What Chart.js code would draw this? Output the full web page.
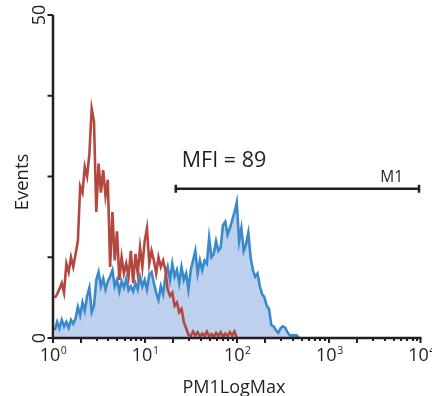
<!DOCTYPE html>
<html>
<head>
<meta charset="utf-8">
<script src="https://cdn.jsdelivr.net/npm/chart.js@4.4.1/dist/chart.umd.min.js"></script>
<style>
    html, body { margin: 0; padding: 0; background: #fff; }
    #wrap { width: 432px; height: 396px; }
</style>
</head>
<body>
<div id="wrap"><canvas id="histo" width="432" height="396"></canvas></div>
<script>
// Histogram bins (log10 of channel), one count per bin
const binStartLog = 0.02;
const binStepLog = 0.025;

// Stained sample (blue, filled)
const blueCounts = [
    1.2, 2.5, 1.5, 2.8, 1.8, 2.5, 1.6, 2.8, 2.2, 3.0,
    4.8, 3.5, 5.5, 4.2, 6.5, 7.8, 4.0, 5.0, 9.0, 10.2,
    8.0, 9.2, 7.5, 8.8, 9.5, 10.5, 8.0, 9.0, 7.2, 8.8,
    7.8, 9.2, 7.4, 8.0, 7.2, 8.5, 7.5, 9.5, 8.0, 9.0,
    7.5, 9.8, 10.2, 8.5, 7.0, 5.9, 8.0, 6.8, 9.5, 11.0,
    9.0, 11.5, 9.5, 10.5, 8.5, 11.0, 9.0, 10.0, 7.5, 10.5,
    12.0, 13.5, 10.0, 12.0, 10.5, 12.0, 11.5, 15.5, 12.5, 13.0,
    15.0, 13.5, 14.0, 17.5, 18.0, 16.0, 17.0, 18.2, 19.5, 21.0,
    15.0, 17.0, 13.5, 14.5, 16.3, 12.5, 10.5, 9.5, 10.0, 8.0,
    6.8, 6.3, 5.0, 4.5, 2.0, 1.8, 1.2, 0.8, 1.5, 1.8,
    1.6, 0.9, 0.4, 0.4, 0.4, 0.4, 0
];

// Control sample (red line)
const redCounts = [
    6.2, 6.8, 7.6, 8.5, 7.0, 11.5, 10.2, 12.5, 11.0, 13.0,
    15.0, 23.5, 22.5, 26.5, 25.0, 28.5, 35.5, 33.5, 19.5, 27.0,
    22.5, 26.0, 22.0, 24.5, 11.0, 19.5, 12.0, 16.5, 9.0, 12.5,
    10.0, 11.5, 9.5, 13.5, 8.5, 13.0, 10.0, 14.0, 11.0, 15.0,
    17.0, 11.5, 13.5, 12.0, 10.0, 12.5, 11.0, 12.0, 10.5, 7.5,
    6.5, 7.0, 5.0, 5.5, 4.0, 4.5, 2.5, 1.5, 0.5, 0.3,
    1.0, 0.4, 0.9, 0.2, 0.7, 0.3, 1.0, 0.3, 0.6, 0.2,
    0.8, 0.3, 0.9, 0.2, 0.7, 0.3, 0.9, 0.4, 1.0, 0
];

// Axis ticks
const xDecadeExponents = ['0', '1', '2', '3', '4'];
const yTickValues = [0, 12.5, 25, 37.5, 50];
const yTickLabels = ['0', '', '', '', '50'];

// Gate marker
const markerName = 'M1';
const markerStart = 21.5;
const markerEnd = 9400;
const markerLevel = 23.1;
const mfiText = 'MFI = 89';

const INK = '#231f20';
const FONT = '"Open Sans", "Noto Sans", sans-serif';

function toPoints(counts) {
    return counts.map((c, i) => ({ x: Math.pow(10, binStartLog + i * binStepLog), y: c }));
}

// Axes, ticks, labels and marker drawn on top of the library's scales
const axesPlugin = {
    id: 'flowAxes',
    afterDraw(chart) {
        const ctx = chart.ctx;
        const xs = chart.scales.x;
        const ys = chart.scales.y;
        const a = chart.chartArea;
        ctx.save();
        ctx.strokeStyle = INK;
        ctx.fillStyle = INK;
        ctx.lineCap = 'butt';

        // axis lines
        ctx.lineWidth = 2.5;
        ctx.beginPath();
        ctx.moveTo(a.left, a.top);
        ctx.lineTo(a.left, a.bottom);
        ctx.moveTo(a.left - 1.2, a.bottom);
        ctx.lineTo(a.right, a.bottom);
        ctx.stroke();

        // x ticks (log, minor at 2..9)
        ctx.lineWidth = 2;
        for (let d = 0; d < 4; d++) {
            for (let m = 1; m <= 9; m++) {
                const px = Math.round(xs.getPixelForValue(m * Math.pow(10, d)));
                const len = m <= 2 ? 5 : 3;
                ctx.beginPath();
                ctx.moveTo(px, a.bottom);
                ctx.lineTo(px, a.bottom + len);
                ctx.stroke();
            }
        }
        const endPx = xs.getPixelForValue(10000);
        ctx.beginPath();
        ctx.moveTo(endPx - 1, a.bottom);
        ctx.lineTo(endPx - 1, a.bottom + 5);
        ctx.stroke();

        // x tick labels 10^n
        xDecadeExponents.forEach((e) => {
            const px = xs.getPixelForValue(Math.pow(10, +e));
            ctx.font = '18px ' + FONT;
            const wBase = ctx.measureText('10').width;
            ctx.font = '10.5px ' + FONT;
            const wExp = ctx.measureText(e).width;
            const left = px - (wBase + wExp) / 2;
            ctx.textAlign = 'left';
            ctx.textBaseline = 'alphabetic';
            ctx.font = '18px ' + FONT;
            ctx.fillText('10', left, 361);
            ctx.font = '10.5px ' + FONT;
            ctx.fillText(e, left + wBase + 0.5, 354);
        });

        // y ticks and rotated labels
        ctx.lineWidth = 2;
        yTickValues.forEach((v, i) => {
            const py = ys.getPixelForValue(v);
            ctx.beginPath();
            ctx.moveTo(a.left, py);
            ctx.lineTo(a.left - 5.5, py);
            ctx.stroke();
            if (yTickLabels[i]) {
                ctx.save();
                ctx.translate(45, py);
                ctx.rotate(-Math.PI / 2);
                ctx.font = '18px ' + FONT;
                ctx.textAlign = 'center';
                ctx.textBaseline = 'alphabetic';
                ctx.fillText(yTickLabels[i], 0, 0);
                ctx.restore();
            }
        });

        // axis titles
        ctx.save();
        ctx.translate(28, 182);
        ctx.rotate(-Math.PI / 2);
        ctx.font = '18.5px ' + FONT;
        ctx.textAlign = 'center';
        ctx.fillText('Events', 0, 0);
        ctx.restore();

        ctx.font = '18px ' + FONT;
        ctx.textAlign = 'center';
        ctx.fillText('PM1LogMax', 234, 392.5);

        // gate marker M1
        const gx0 = xs.getPixelForValue(markerStart);
        const gx1 = xs.getPixelForValue(markerEnd);
        const gy = ys.getPixelForValue(markerLevel);
        ctx.lineWidth = 2.5;
        ctx.beginPath();
        ctx.moveTo(gx0, gy);
        ctx.lineTo(gx1, gy);
        ctx.moveTo(gx0, gy - 4);
        ctx.lineTo(gx0, gy + 4);
        ctx.moveTo(gx1, gy - 4);
        ctx.lineTo(gx1, gy + 4);
        ctx.stroke();

        ctx.font = '15.5px ' + FONT;
        ctx.textAlign = 'right';
        ctx.fillText(markerName, gx1 - 16, gy - 6.5);

        ctx.font = '21.5px ' + FONT;
        ctx.textAlign = 'left';
        ctx.fillText(mfiText, gx0 + 6, gy - 22);

        ctx.restore();
    }
};

const chart = new Chart(document.getElementById('histo'), {
    type: 'line',
    data: {
        datasets: [
            {
                label: 'Control',
                data: toPoints(redCounts),
                borderColor: '#b4483f',
                borderWidth: 2.6,
                pointRadius: 0,
                tension: 0,
                fill: false,
                order: 0
            },
            {
                label: 'PM1',
                data: toPoints(blueCounts),
                borderColor: '#3a89cb',
                backgroundColor: '#bdd0ed',
                borderWidth: 2.6,
                pointRadius: 0,
                tension: 0,
                fill: 'origin',
                order: 1
            }
        ]
    },
    options: {
        responsive: false,
        animation: false,
        devicePixelRatio: 1,
        layout: { padding: { left: 53, right: 10.5, top: 15, bottom: 58 } },
        plugins: { legend: { display: false }, tooltip: { enabled: false } },
        scales: {
            x: { type: 'logarithmic', min: 1, max: 10000, display: false },
            y: { type: 'linear', min: 0, max: 50, display: false }
        }
    },
    plugins: [axesPlugin]
});
</script>
</body>
</html>
